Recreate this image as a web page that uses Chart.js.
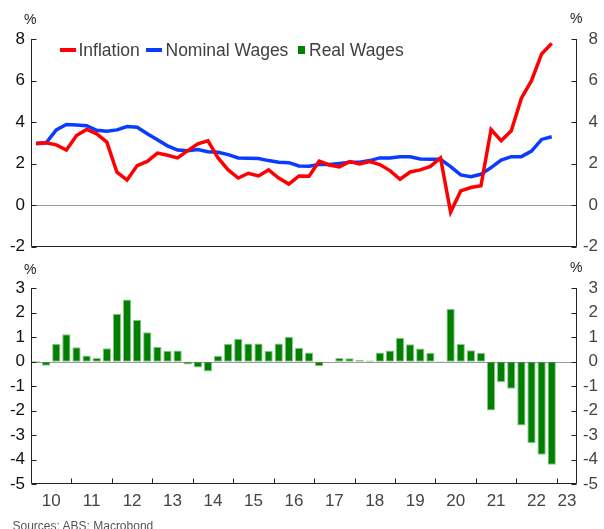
<!DOCTYPE html>
<html>
<head>
<meta charset="utf-8">
<title>Inflation and wages</title>
<script src="https://cdn.jsdelivr.net/npm/chart.js@4.4.1/dist/chart.umd.min.js"></script>
<style>
  body { margin: 0; background: #fff; font-family: "Liberation Sans", Arial, sans-serif; }
  #wrap { position: relative; width: 604px; height: 529px; overflow: hidden; }
  #wrap canvas { position: absolute; left: 0; }
  .lbl { position: absolute; white-space: nowrap; line-height: normal; }
  .pct { font-size: 14px; color: #222; }
  .leg { font-size: 17.5px; color: #404040; }
  .sw { position: absolute; }
  .src { font-size: 12px; color: #555; }
</style>
</head>
<body>
<div id="wrap">
  <canvas id="topChart" width="604" height="262" style="top:0"></canvas>
  <canvas id="bottomChart" width="604" height="279" style="top:250px"></canvas>

  <span class="lbl pct" style="left:24px; top:11px">%</span>
  <span class="lbl pct" style="left:570px; top:9.5px">%</span>
  <span class="lbl pct" style="left:24px; top:260.5px">%</span>
  <span class="lbl pct" style="left:570px; top:258.5px">%</span>

  <!-- legend -->
  <div class="sw" style="left:60px; top:48px; width:16px; height:4px; background:#ff0000"></div>
  <span class="lbl leg" style="left:78.5px; top:39.5px">Inflation</span>
  <div class="sw" style="left:146px; top:48px; width:16px; height:4px; background:#0a3cff"></div>
  <span class="lbl leg" style="left:165.5px; top:39.5px">Nominal Wages</span>
  <div class="sw" style="left:297.5px; top:46px; width:7.5px; height:7.5px; background:#008000"></div>
  <span class="lbl leg" style="left:309px; top:39.5px">Real Wages</span>

  <span class="lbl src" style="left:12.5px; top:518.5px">Sources: ABS; Macrobond</span>
</div>

<script>
// Trimestres
const quarters = [
  '2010Q1', '2010Q2', '2010Q3', '2010Q4',
  '2011Q1', '2011Q2', '2011Q3', '2011Q4',
  '2012Q1', '2012Q2', '2012Q3', '2012Q4',
  '2013Q1', '2013Q2', '2013Q3', '2013Q4',
  '2014Q1', '2014Q2', '2014Q3', '2014Q4',
  '2015Q1', '2015Q2', '2015Q3', '2015Q4',
  '2016Q1', '2016Q2', '2016Q3', '2016Q4',
  '2017Q1', '2017Q2', '2017Q3', '2017Q4',
  '2018Q1', '2018Q2', '2018Q3', '2018Q4',
  '2019Q1', '2019Q2', '2019Q3', '2019Q4',
  '2020Q1', '2020Q2', '2020Q3', '2020Q4',
  '2021Q1', '2021Q2', '2021Q3', '2021Q4',
  '2022Q1', '2022Q2', '2022Q3', '2022Q4'
];

// Inflación (% a/a)
const inflation = [
  2.95, 3.0, 2.9, 2.65,
  3.35, 3.64, 3.43, 3.03,
  1.58, 1.2, 1.9, 2.1,
  2.5, 2.4, 2.27, 2.62,
  2.95, 3.09, 2.27, 1.69,
  1.3, 1.53, 1.4, 1.69,
  1.3, 1.01, 1.4, 1.39,
  2.11, 1.93, 1.84, 2.09,
  1.98, 2.09, 1.95, 1.66,
  1.24, 1.59, 1.69, 1.86,
  2.27, -0.34, 0.68, 0.84,
  0.93, 3.64, 3.1, 3.58,
  5.15, 5.99, 7.28, 7.79
];

// Salarios nominales (% a/a)
const nominalWages = [
  2.98, 3.0, 3.62, 3.88,
  3.85, 3.82, 3.6, 3.56,
  3.62, 3.78, 3.75, 3.43,
  3.14, 2.85, 2.65, 2.62,
  2.67, 2.57, 2.54, 2.43,
  2.27, 2.25, 2.24, 2.14,
  2.06, 2.04, 1.88, 1.87,
  1.95, 1.95, 2.0, 2.06,
  2.06, 2.14, 2.27, 2.27,
  2.33, 2.32, 2.22, 2.2,
  2.2, 1.85, 1.45, 1.36,
  1.48, 1.8, 2.16, 2.33,
  2.33, 2.6, 3.16, 3.29
];

// Salarios reales (% a/a)
const realWages = [
  0.04, -0.16, 0.74, 1.12,
  0.59, 0.26, 0.16, 0.55,
  1.96, 2.54, 1.72, 1.21,
  0.61, 0.45, 0.46, -0.11,
  -0.23, -0.4, 0.25, 0.74,
  0.94, 0.75, 0.75, 0.45,
  0.75, 1.02, 0.57, 0.38,
  -0.18, 0, 0.16, 0.15,
  0.08, 0.05, 0.38, 0.46,
  0.98, 0.72, 0.54, 0.37,
  0.02, 2.17, 0.73, 0.47,
  0.37, -1.99, -0.83, -1.1,
  -2.6, -3.32, -3.79, -4.2
];

// Etiquetas del eje X
const years = [2010, 2011, 2012, 2013, 2014, 2015, 2016, 2017, 2018, 2019, 2020, 2021, 2022, 2023];
const yearLabels = ['10', '11', '12', '13', '14', '15', '16', '17', '18', '19', '20', '21', '22', '23'];
const topTicks = [-2, 0, 2, 4, 6, 8];
const bottomTicks = [-5, -4, -3, -2, -1, 0, 1, 2, 3];

const X_MIN = 2010;
const X_MAX = 2023.5;

// '2010Q1' -> centro del trimestre en años decimales
function quarterToX(q) {
  const y = parseInt(q.slice(0, 4), 10);
  const n = parseInt(q.slice(5), 10);
  return y + (n - 0.5) / 4;
}

function toPoints(values) {
  return values.map((v, i) => ({ x: quarterToX(quarters[i]), y: v }));
}

// Marco de ejes con marcas hacia dentro y línea de cero gris
const axisFrame = {
  id: 'axisFrame',
  beforeDatasetsDraw(chart) {
    const { ctx, chartArea: a } = chart;
    const y0 = Math.round(chart.scales.y.getPixelForValue(0)) + 0.5;
    ctx.save();
    ctx.strokeStyle = '#9c9c9c';
    ctx.lineWidth = 1;
    ctx.beginPath();
    ctx.moveTo(a.left, y0);
    ctx.lineTo(a.right, y0);
    ctx.stroke();
    ctx.restore();
  },
  afterDraw(chart, args, opts) {
    const { ctx, chartArea: a, scales } = chart;
    const L = Math.round(a.left) + 0.5;
    const R = Math.round(a.right) - 0.5;
    const B = Math.round(a.bottom) - 0.5;
    const T = Math.round(a.top);
    ctx.save();
    ctx.strokeStyle = '#222';
    ctx.lineWidth = 1;
    ctx.beginPath();
    ctx.moveTo(L, T);
    ctx.lineTo(L, B);
    ctx.lineTo(R, B);
    ctx.lineTo(R, T);
    (opts.yTicks || []).forEach(v => {
      const p = Math.round(scales.y.getPixelForValue(v)) + 0.5;
      ctx.moveTo(L, p); ctx.lineTo(L + 5, p);
      ctx.moveTo(R, p); ctx.lineTo(R - 5, p);
    });
    (opts.xTicks || []).forEach(v => {
      const p = Math.round(scales.x.getPixelForValue(v)) + 0.5;
      ctx.moveTo(p, B); ctx.lineTo(p, B - 5);
    });
    ctx.stroke();
    ctx.restore();
  }
};

function yAxis(min, max, ticksList, side) {
  return {
    type: 'linear',
    position: side,
    min: min,
    max: max,
    afterBuildTicks(s) { s.ticks = ticksList.map(v => ({ value: v })); },
    ticks: {
      color: side === 'left' ? '#111' : '#444',
      font: { family: 'Liberation Sans', size: 17 },
      padding: 6,
      crossAlign: side === 'left' ? 'near' : 'far'
    },
    grid: { display: false, drawTicks: false },
    border: { display: false },
    afterFit(s) {
      s.width = side === 'left' ? 31 : 21;
      s.paddingTop = 0;
      s.paddingBottom = 0;
    }
  };
}

// Panel superior: inflación y salarios nominales
new Chart(document.getElementById('topChart'), {
  type: 'line',
  data: {
    datasets: [
      {
        label: 'Inflation',
        data: toPoints(inflation),
        borderColor: '#ff0000',
        borderWidth: 3.5,
        pointRadius: 0,
        tension: 0
      },
      {
        label: 'Nominal Wages',
        data: toPoints(nominalWages),
        borderColor: '#0a3cff',
        borderWidth: 3.5,
        pointRadius: 0,
        tension: 0
      }
    ]
  },
  options: {
    responsive: false,
    animation: false,
    layout: { padding: { left: 0, right: 6, top: 39, bottom: 15.5 } },
    scales: {
      x: { type: 'linear', min: X_MIN, max: X_MAX, display: false },
      y: yAxis(-2, 8, topTicks, 'left'),
      y2: yAxis(-2, 8, topTicks, 'right')
    },
    plugins: {
      legend: { display: false },
      tooltip: { enabled: false },
      axisFrame: { yTicks: topTicks }
    }
  },
  plugins: [axisFrame]
});

// Panel inferior: salarios reales
const labelPos = years.map(y => Math.min(y + 0.5, (y + X_MAX) / 2));

new Chart(document.getElementById('bottomChart'), {
  type: 'bar',
  data: {
    datasets: [{
      label: 'Real Wages',
      data: toPoints(realWages),
      backgroundColor: '#008000',
      borderColor: 'rgba(0,128,0,0.45)',
      borderWidth: 1,
      borderSkipped: false,
      categoryPercentage: 1,
      barPercentage: 0.82
    }]
  },
  options: {
    responsive: false,
    animation: false,
    layout: { padding: { left: 0, right: 6, top: 38.3, bottom: 18.7 } },
    scales: {
      x: {
        type: 'linear',
        min: X_MIN,
        max: X_MAX,
        offset: false,
        afterBuildTicks(s) { s.ticks = labelPos.map(v => ({ value: v })); },
        ticks: {
          color: '#444',
          font: { family: 'Liberation Sans', size: 17 },
          padding: 7,
          maxRotation: 0,
          autoSkip: false,
          callback: (v, i) => yearLabels[i]
        },
        grid: { display: false, drawTicks: false },
        border: { display: false },
        afterFit(s) {
          s.height = 26;
          s.paddingLeft = 0;
          s.paddingRight = 0;
        }
      },
      y: yAxis(-5, 3, bottomTicks, 'left'),
      y2: yAxis(-5, 3, bottomTicks, 'right')
    },
    plugins: {
      legend: { display: false },
      tooltip: { enabled: false },
      axisFrame: { yTicks: bottomTicks, xTicks: years.slice(1) }
    }
  },
  plugins: [axisFrame]
});
</script>
</body>
</html>
